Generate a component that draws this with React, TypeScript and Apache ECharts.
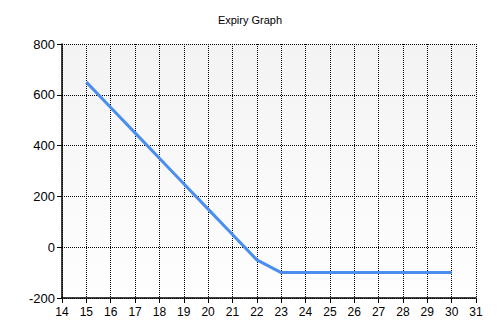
import React, { useEffect, useRef } from "react";
import * as echarts from "echarts";

const xValues = [15, 16, 17, 18, 19, 20, 21, 22, 23, 24, 25, 26, 27, 28, 29, 30];
const yValues = [650, 550, 450, 350, 250, 150, 50, -50, -100, -100, -100, -100, -100, -100, -100, -100];
const titleText = "Expiry Graph";

export default function App() {
  const ref = useRef<HTMLDivElement>(null);
  useEffect(() => {
    const chart = echarts.init(ref.current!, null, { renderer: "svg" });
    const font = "'Liberation Sans', Arial, sans-serif";
    chart.setOption({
      animation: false,
      backgroundColor: "#ffffff",
      title: {
        text: titleText,
        left: "center",
        top: 9,
        textStyle: { fontSize: 11, fontWeight: "normal", color: "#000", fontFamily: font },
      },
      grid: {
        left: 62,
        right: 24,
        top: 44,
        bottom: 35,
        show: true,
        borderWidth: 0,
        backgroundColor: new echarts.graphic.LinearGradient(0, 0, 0, 1, [
          { offset: 0, color: "#f3f3f3" },
          { offset: 1, color: "#fefefe" },
        ]),
      },
      xAxis: {
        type: "value",
        min: 14,
        max: 31,
        interval: 1,
        axisLine: { show: true, onZero: false, lineStyle: { color: "#000", width: 1.5 } },
        axisTick: { show: true, length: 5, lineStyle: { color: "#000" } },
        axisLabel: { color: "#000", fontSize: 12, fontFamily: font, margin: 8 },
        splitLine: { show: true, lineStyle: { color: "#000", type: [1, 1], width: 1 } },
      },
      yAxis: {
        type: "value",
        min: -200,
        max: 800,
        interval: 200,
        axisLine: { show: true, onZero: false, lineStyle: { color: "#000", width: 1.5 } },
        axisTick: { show: true, length: 5, lineStyle: { color: "#000" } },
        axisLabel: { color: "#000", fontSize: 13, fontFamily: font, margin: 7 },
        splitLine: { show: true, lineStyle: { color: "#000", type: [1, 1], width: 1 } },
      },
      series: [
        {
          type: "line",
          data: xValues.map((x, i) => [x, yValues[i]]),
          showSymbol: false,
          lineStyle: { color: "#4a8ef0", width: 3 },
          itemStyle: { color: "#4a8ef0" },
        },
      ],
    });
    return () => chart.dispose();
  }, []);
  return <div ref={ref} style={{ width: 500, height: 333, position: "absolute", left: 0, top: 0 }} />;
}
